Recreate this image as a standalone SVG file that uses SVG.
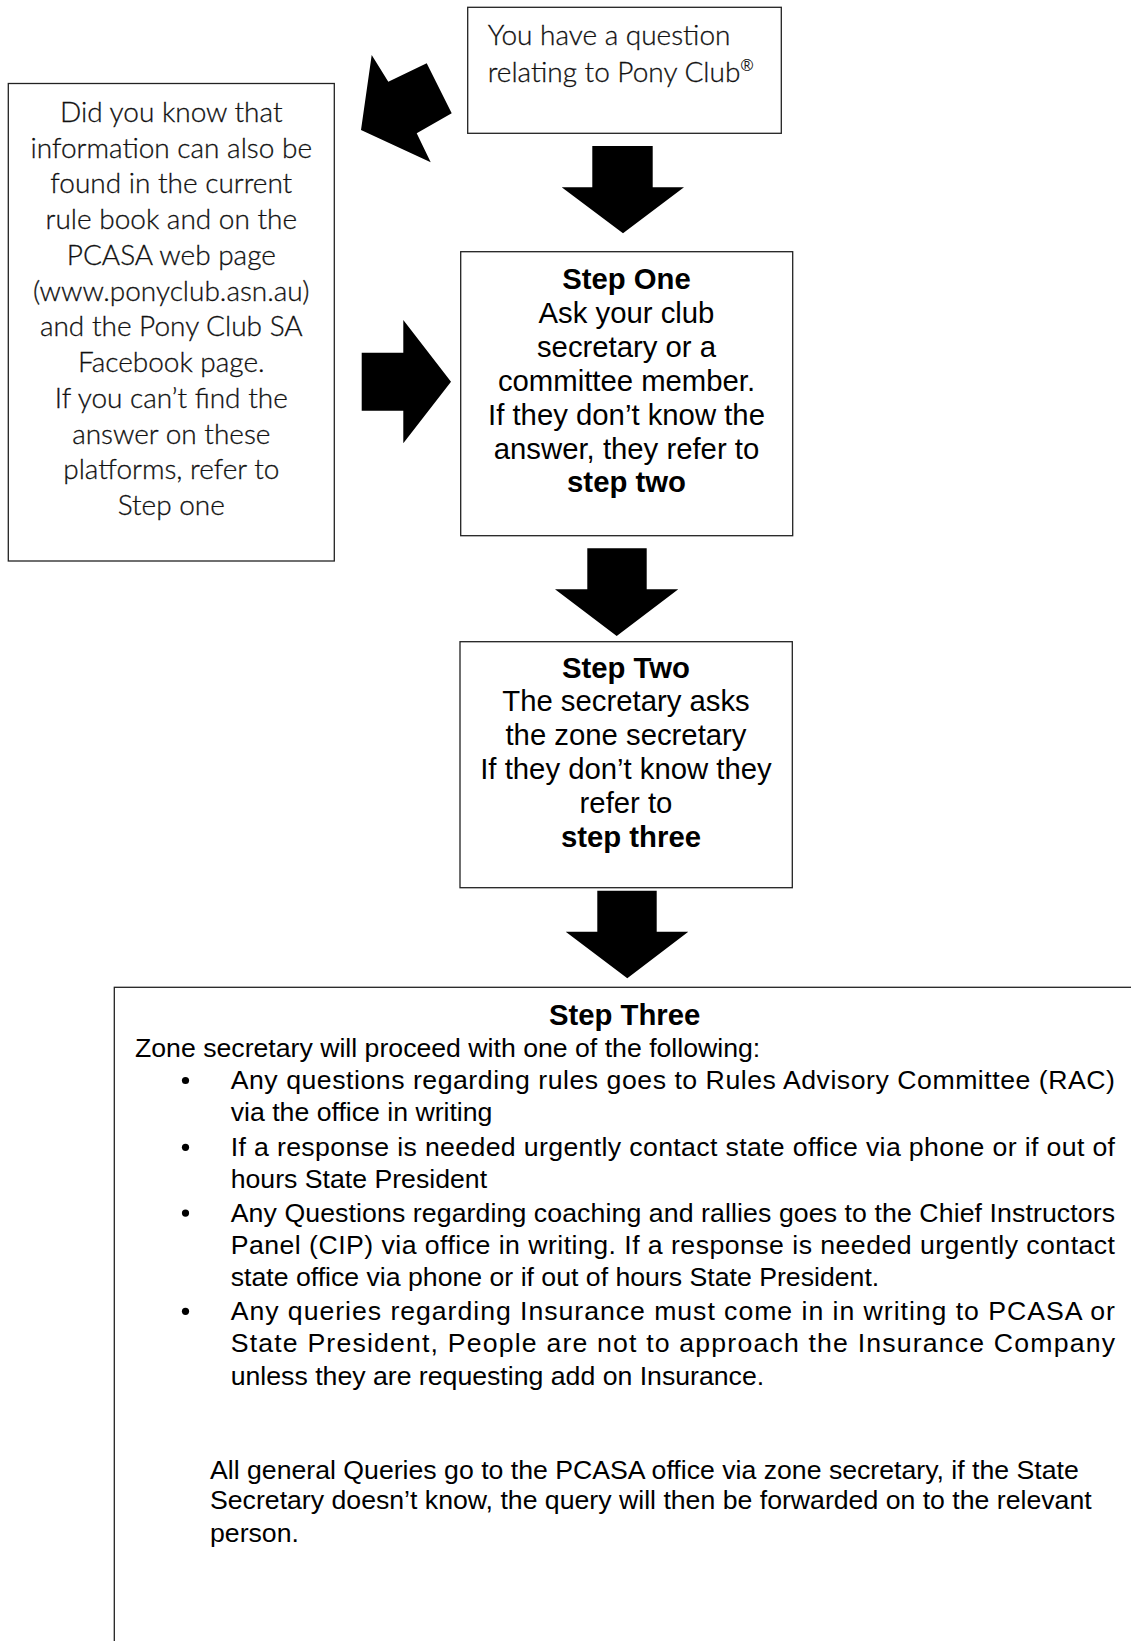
<svg xmlns="http://www.w3.org/2000/svg" width="1131" height="1641" viewBox="0 0 1131 1641">
<style>
.box{fill:#fff;stroke:#222;stroke-width:1.3}
.arrow{fill:#000;stroke:none}
.cal{font-family:Lato,"Open Sans","Noto Sans",sans-serif;font-weight:300;font-size:28px;fill:#111;stroke:#111;stroke-width:0.3}
.ar{font-family:"Liberation Sans",Arial,sans-serif;font-size:29.3px;fill:#000}
.b{font-weight:bold}
.s3{font-family:"Liberation Sans",Arial,sans-serif;font-size:26.67px;fill:#000}
</style>
<rect width="1131" height="1641" fill="#fff"/>

<g id="connectors">
  <polygon class="arrow" points="361,130 371.7,55 388.3,81.7 426.7,63.3 451.7,113.3 416.7,133.3 430.7,162.3"/>
  <polygon class="arrow" points="361.7,352.7 403.3,352.7 403.3,320 451,381.7 403.3,443.3 403.3,410.7 361.7,410.7"/>
  <polygon class="arrow" points="592.3,146 652.7,146 652.7,187.3 684,187.3 623,233.3 561.7,187.3 592.3,187.3"/>
  <polygon class="arrow" points="587.3,548.3 646.7,548.3 646.7,589.3 678.3,589.3 616.7,636 555,589.3 587.3,589.3"/>
  <polygon class="arrow" points="597.3,890.7 656.7,890.7 656.7,931.7 688.3,931.7 627.3,978.3 565.7,931.7 597.3,931.7"/>
</g>

<g id="question">
  <rect class="box" x="467.7" y="7.3" width="313.6" height="126"/>
  <text class="cal" x="487.7" y="45">You have a question</text>
  <text class="cal" x="487.7" y="82">relating to Pony Club<tspan font-size="16" dy="-11">®</tspan></text>
</g>

<g id="info">
  <rect class="box" x="8.3" y="83.5" width="326" height="477.5"/>
  <g class="cal" text-anchor="middle">
    <text x="171.3" y="121.7">Did you know that</text>
    <text x="171.3" y="157.5">information can also be</text>
    <text x="171.3" y="193.2">found in the current</text>
    <text x="171.3" y="229">rule book and on the</text>
    <text x="171.3" y="264.7">PCASA web page</text>
    <text x="171.3" y="300.5">(www.ponyclub.asn.au)</text>
    <text x="171.3" y="336.2">and the Pony Club SA</text>
    <text x="171.3" y="372">Facebook page.</text>
    <text x="171.3" y="407.7">If you can’t find the</text>
    <text x="171.3" y="443.5">answer on these</text>
    <text x="171.3" y="479.2">platforms, refer to</text>
    <text x="171.3" y="515">Step one</text>
  </g>
</g>

<g id="step-one">
  <rect class="box" x="460.7" y="251.7" width="332" height="284"/>
  <g class="ar" text-anchor="middle">
    <text class="b" x="626.5" y="289">Step One</text>
    <text x="626.5" y="322.9">Ask your club</text>
    <text x="626.5" y="356.8">secretary or a</text>
    <text x="626.5" y="390.7">committee member.</text>
    <text x="626.5" y="424.6">If they don’t know the</text>
    <text x="626.5" y="458.5">answer, they refer to</text>
    <text class="b" x="626.5" y="492.4">step two</text>
  </g>
</g>

<g id="step-two">
  <rect class="box" x="460" y="641.7" width="332.3" height="246"/>
  <g class="ar" text-anchor="middle">
    <text class="b" x="626" y="677.5">Step Two</text>
    <text x="626" y="711.4">The secretary asks</text>
    <text x="626" y="745.3">the zone secretary</text>
    <text x="626" y="779.2">If they don’t know they</text>
    <text x="626" y="813">refer to</text>
    <text class="b" x="631" y="846.7">step three</text>
  </g>
</g>

<g id="step-three">
  <rect class="box" x="114.3" y="987.3" width="1030" height="670"/>
  <text class="ar b" x="624.6" y="1024.5" text-anchor="middle">Step Three</text>
  <g class="s3">
    <text x="135" y="1056.5">Zone secretary will proceed with one of the following:</text>
    <circle cx="185.5" cy="1080.5" r="3.6"/>
    <text x="230.7" y="1089" textLength="884.3" lengthAdjust="spacing">Any questions regarding rules goes to Rules Advisory Committee (RAC)</text>
    <text x="230.7" y="1121">via the office in writing</text>
    <circle cx="185.5" cy="1147.3" r="3.6"/>
    <text x="230.7" y="1155.8" textLength="884.3" lengthAdjust="spacing">If a response is needed urgently contact state office via phone or if out of</text>
    <text x="230.7" y="1188">hours State President</text>
    <circle cx="185.5" cy="1213.1" r="3.6"/>
    <text x="230.7" y="1221.6" textLength="884.3" lengthAdjust="spacing">Any Questions regarding coaching and rallies goes to the Chief Instructors</text>
    <text x="230.7" y="1254" textLength="884.3" lengthAdjust="spacing">Panel (CIP) via office in writing. If a response is needed urgently contact</text>
    <text x="230.7" y="1286.3">state office via phone or if out of hours State President.</text>
    <circle cx="185.5" cy="1311.3" r="3.6"/>
    <text x="230.7" y="1319.8" textLength="884.3" lengthAdjust="spacing">Any queries regarding Insurance must come in in writing to PCASA or</text>
    <text x="230.7" y="1352" textLength="884.3" lengthAdjust="spacing">State President, People are not to approach the Insurance Company</text>
    <text x="230.7" y="1384.5">unless they are requesting add on Insurance.</text>
    <text x="210" y="1478.5">All general Queries go to the PCASA office via zone secretary, if the State</text>
    <text x="210" y="1509">Secretary doesn’t know, the query will then be forwarded on to the relevant</text>
    <text x="210" y="1542">person.</text>
  </g>
</g>
</svg>
